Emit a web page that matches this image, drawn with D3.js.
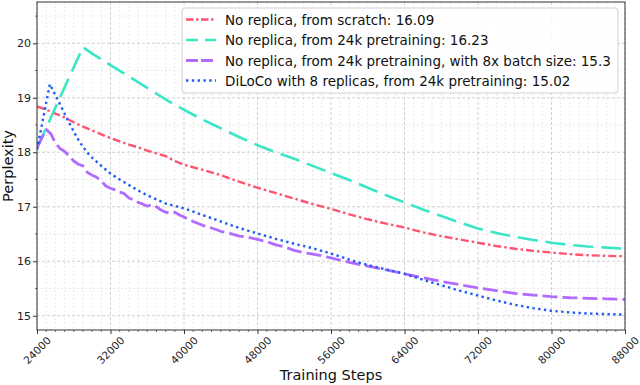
<!DOCTYPE html>
<html>
<head>
<meta charset="utf-8">
<script src="https://cdn.jsdelivr.net/npm/d3@7"></script>
<style>
  html, body { margin: 0; padding: 0; background: #fff; }
  svg { display: block; font-family: "DejaVu Sans", sans-serif; }
</style>
</head>
<body>
<svg id="chart" width="640" height="385"></svg>
<script>
// ---------------- data ----------------
const xTicks = [24000, 32000, 40000, 48000, 56000, 64000, 72000, 80000, 88000];
const yTicks = [15, 16, 17, 18, 19, 20];

const seriesNames = [
  "No replica, from scratch: 16.09",
  "No replica, from 24k pretraining: 16.23",
  "No replica, from 24k pretraining, with 8x batch size: 15.3",
  "DiLoCo with 8 replicas, from 24k pretraining: 15.02"
];

const scratchSteps = [24000,25000,26000,27000,28000,29000,30000,31000,32000,33000,34000,35000,36000,37000,38000,39000,40000,42000,44000,46000,48000,50000,52000,54000,56000,58000,60000,62000,64000,66000,68000,70000,72000,74000,76000,78000,80000,82000,84000,86000,88000];
const scratchPpl   = [18.84,18.78,18.71,18.64,18.55,18.47,18.40,18.33,18.26,18.20,18.14,18.09,18.03,17.98,17.93,17.84,17.77,17.68,17.58,17.46,17.35,17.25,17.15,17.05,16.96,16.86,16.77,16.69,16.62,16.53,16.46,16.40,16.34,16.28,16.23,16.19,16.16,16.13,16.11,16.10,16.09];

const pretrainSteps = [24000,29000,30000,32000,34000,36000,38000,40000,42000,44000,46000,48000,50000,52000,54000,56000,58000,60000,62000,64000,66000,68000,70000,72000,74000,76000,78000,80000,82000,84000,86000,88000];
const pretrainPpl   = [18.08,19.93,19.81,19.60,19.39,19.18,18.97,18.78,18.60,18.44,18.28,18.13,18.00,17.88,17.75,17.62,17.49,17.35,17.21,17.08,16.95,16.83,16.71,16.60,16.52,16.45,16.39,16.34,16.30,16.27,16.25,16.23];

const bigBatchSteps = [24000,25000,25500,26000,26500,27000,27500,28000,28500,29000,29500,30000,30500,31000,31500,32000,32500,33000,33500,34000,34500,35000,35500,36000,36500,37000,37500,38000,38500,39000,39500,40000,41000,42000,43000,44000,45000,46000,47000,48000,49000,50000,51000,52000,53000,54000,55000,56000,58000,60000,62000,64000,66000,68000,70000,72000,74000,76000,78000,80000,82000,84000,86000,88000];
const bigBatchPpl   = [18.08,18.42,18.34,18.17,18.07,18.02,17.93,17.84,17.78,17.75,17.63,17.58,17.54,17.47,17.38,17.34,17.31,17.27,17.24,17.16,17.13,17.08,17.05,17.01,17.04,17.00,16.94,16.90,16.88,16.90,16.85,16.81,16.73,16.66,16.61,16.55,16.51,16.46,16.44,16.40,16.36,16.30,16.26,16.20,16.16,16.13,16.10,16.06,15.98,15.91,15.84,15.77,15.70,15.63,15.57,15.51,15.46,15.41,15.38,15.35,15.33,15.32,15.31,15.30];

const dilocoSteps = [24000,25400,26000,26500,27000,27500,28000,28500,29000,29500,30000,31000,32000,33000,34000,35000,36000,38000,40000,42000,44000,46000,48000,50000,52000,54000,56000,58000,60000,62000,64000,66000,68000,70000,72000,74000,76000,78000,80000,82000,84000,86000,88000];
const dilocoPpl   = [18.05,19.25,19.05,18.88,18.71,18.54,18.38,18.23,18.10,17.99,17.90,17.75,17.61,17.50,17.40,17.30,17.21,17.06,16.97,16.85,16.73,16.61,16.51,16.41,16.32,16.24,16.14,16.03,15.93,15.85,15.77,15.66,15.56,15.46,15.37,15.28,15.20,15.14,15.09,15.06,15.04,15.03,15.02];

// ---------------- layout ----------------
const svg = d3.select("#chart");
const L = 37, R = 625, T = 2, B = 330;
const x = d3.scaleLinear().domain([24000, 88000]).range([L, R]);
const y = d3.scaleLinear().domain([14.738, 20.758]).range([B, T]);

const series = [
  { name: seriesNames[0], steps: scratchSteps,  vals: scratchPpl,  color: "#ff5470", dash: "8,3,2.5,3",  ldash: "7.5,2.5,2.5,2.5", w: 2.4 },
  { name: seriesNames[1], steps: pretrainSteps, vals: pretrainPpl, color: "#3ae6c6", dash: "20,8",      ldash: "12,7",            w: 2.6 },
  { name: seriesNames[2], steps: bigBatchSteps, vals: bigBatchPpl, color: "#b26bff", dash: "15,5",      ldash: "12,3",            w: 2.8 },
  { name: seriesNames[3], steps: dilocoSteps,   vals: dilocoPpl,   color: "#1f5cf5", dash: "2.4,3.4",   ldash: "2.4,3.4",         w: 2.4 }
];

// ---------------- grid ----------------
const grid = svg.append("g");
const xMinor = d3.range(24000, 88001, 1000).filter(v => v % 8000 !== 0);
const yMinor = d3.range(15.5, 20.6, 1);
grid.selectAll(".xm").data(xMinor).join("line")
  .attr("x1", d => x(d)).attr("x2", d => x(d)).attr("y1", T).attr("y2", B)
  .attr("stroke", "#e4e4e4").attr("stroke-width", 0.8).attr("stroke-dasharray", "2,2");
grid.selectAll(".ym").data(yMinor).join("line")
  .attr("x1", L).attr("x2", R).attr("y1", d => y(d)).attr("y2", d => y(d))
  .attr("stroke", "#e4e4e4").attr("stroke-width", 0.8).attr("stroke-dasharray", "2,2");
grid.selectAll(".xM").data(xTicks).join("line")
  .attr("x1", d => x(d)).attr("x2", d => x(d)).attr("y1", T).attr("y2", B)
  .attr("stroke", "#cccccc").attr("stroke-width", 0.9).attr("stroke-dasharray", "3,2");
grid.selectAll(".yM").data(yTicks).join("line")
  .attr("x1", L).attr("x2", R).attr("y1", d => y(d)).attr("y2", d => y(d))
  .attr("stroke", "#cccccc").attr("stroke-width", 0.9).attr("stroke-dasharray", "3,2");

// ---------------- lines ----------------
svg.append("clipPath").attr("id", "clip").append("rect")
  .attr("x", L).attr("y", T).attr("width", R - L).attr("height", B - T);
const lines = svg.append("g").attr("clip-path", "url(#clip)");
series.forEach(s => {
  const pts = s.steps.map((st, i) => [st, s.vals[i]]);
  const gen = d3.line().x(d => x(d[0])).y(d => y(d[1])).curve(d3.curveLinear);
  lines.append("path").attr("d", gen(pts)).attr("fill", "none")
    .attr("stroke", s.color).attr("stroke-width", s.w)
    .attr("stroke-linejoin", "round")
    .attr("stroke-dasharray", s.dash);
});

// ---------------- axes ----------------
const xAxis = d3.axisBottom(x).tickValues(xTicks).tickSize(4).tickFormat(d3.format("d"));
const gx = svg.append("g").attr("transform", `translate(0,${B})`).call(xAxis);
gx.select(".domain").remove();
gx.selectAll("line").attr("stroke", "#333");
gx.selectAll("text").remove();
svg.append("g").selectAll("line").data(xMinor).join("line")
  .attr("x1", d => x(d)).attr("x2", d => x(d)).attr("y1", B).attr("y2", B + 2)
  .attr("stroke", "#333").attr("stroke-width", 0.7);
svg.append("g").selectAll("text").data(xTicks).join("text")
  .attr("transform", d => `translate(${x(d)},${B + 20}) rotate(-45)`)
  .attr("text-anchor", "middle").attr("dominant-baseline", "central")
  .attr("font-size", 10.5).attr("fill", "#222").text(d => d3.format("d")(d));

const yAxis = d3.axisLeft(y).tickValues(yTicks).tickSize(4).tickPadding(2).tickFormat(d3.format("d"));
const gy = svg.append("g").attr("transform", `translate(${L},0)`).call(yAxis);
gy.select(".domain").remove();
gy.selectAll("line").attr("stroke", "#333");
gy.selectAll("text").attr("font-size", 11).attr("fill", "#222").attr("font-family", "DejaVu Sans");
svg.append("g").selectAll("line").data(yMinor).join("line")
  .attr("x1", L - 2).attr("x2", L).attr("y1", d => y(d)).attr("y2", d => y(d))
  .attr("stroke", "#333").attr("stroke-width", 0.7);

// frame
svg.append("rect").attr("x", L).attr("y", T).attr("width", R - L).attr("height", B - T)
  .attr("fill", "none").attr("stroke", "#333").attr("stroke-width", 1);

// axis labels
svg.append("text").attr("x", (L + R) / 2).attr("y", 380).attr("text-anchor", "middle")
  .attr("font-size", 14.5).attr("fill", "#111").text("Training Steps");
svg.append("text").attr("transform", `translate(13,${(T + B) / 2}) rotate(-90)`)
  .attr("text-anchor", "middle").attr("font-size", 14.5).attr("fill", "#111").text("Perplexity");

// ---------------- legend ----------------
const lg = svg.append("g");
lg.append("rect").attr("x", 182).attr("y", 8).attr("width", 436).attr("height", 85)
  .attr("rx", 3).attr("fill", "#fff").attr("fill-opacity", 0.85)
  .attr("stroke", "#d0d0d0").attr("stroke-width", 1);
const rowY = [19.5, 40, 60.5, 80.5];
series.forEach((s, i) => {
  lg.append("line").attr("x1", 186).attr("x2", 216).attr("y1", rowY[i]).attr("y2", rowY[i])
    .attr("stroke", s.color).attr("stroke-width", s.w).attr("stroke-dasharray", s.ldash);
  lg.append("text").attr("x", 225).attr("y", rowY[i]).attr("dominant-baseline", "central")
    .attr("font-size", 13.5).attr("fill", "#111").text(s.name);
});
</script>
</body>
</html>
